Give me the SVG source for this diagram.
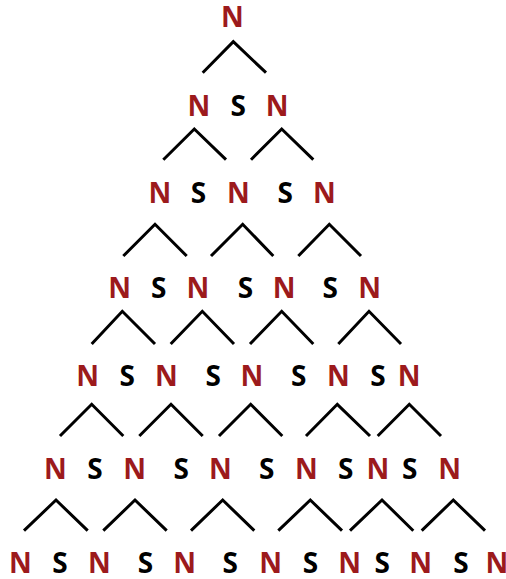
<svg xmlns="http://www.w3.org/2000/svg" width="506" height="579" viewBox="0 0 506 579">
<style>
  text { font-family: "Open Sans", "Liberation Sans", sans-serif; font-weight: bold; font-size: 28px; text-anchor: middle; }
  .n { fill: #9c1a1c; }
  .s { fill: #000000; }
  .c { fill: none; stroke: #000000; stroke-width: 3; }
</style>
<rect width="506" height="579" fill="#ffffff"/>
<g id="connectors">
  <polyline class="c" points="202.7,72.7 233.3,41.7 266,72.7"/>
  <polyline class="c" points="163.3,159.7 194.3,129 226,159.7"/>
  <polyline class="c" points="251,159.7 281.7,129 313.3,159.7"/>
  <polyline class="c" points="123.3,256 155,224.3 186.7,256"/>
  <polyline class="c" points="211,256 242.7,224.3 273.3,256"/>
  <polyline class="c" points="298.3,256 329.3,224.3 361,256"/>
  <polyline class="c" points="91.7,344 122.3,311.3 155,344"/>
  <polyline class="c" points="170.7,344 202.3,311.3 234,344"/>
  <polyline class="c" points="250,344 281.7,311.3 313.3,344"/>
  <polyline class="c" points="338.3,344 369,311.3 401,344"/>
  <polyline class="c" points="60,436 91.7,404.3 123.3,436"/>
  <polyline class="c" points="139.3,436 171,404.3 202.7,436"/>
  <polyline class="c" points="219,436 250.7,404.3 282.3,436"/>
  <polyline class="c" points="306,436 337.3,404.3 370,436"/>
  <polyline class="c" points="377.7,436 409.3,404.3 441,436"/>
  <polyline class="c" points="24,530.7 56,500 87.7,530.7"/>
  <polyline class="c" points="103.3,530.7 135,500 166.7,530.7"/>
  <polyline class="c" points="191,530.7 222.7,500 254.3,530.7"/>
  <polyline class="c" points="278.3,530.7 310.3,500 342,530.7"/>
  <polyline class="c" points="350,530.7 382,500 413.3,530.7"/>
  <polyline class="c" points="421.7,530.7 453.3,500 485,530.7"/>
</g>
<g id="r0n0"><text class="n" x="232.5" y="27">N</text></g>
<g id="r1n0"><text class="n" x="198.8" y="116">N</text></g>
<g id="r1s0"><text class="s" x="238.2" y="116">S</text></g>
<g id="r1n1"><text class="n" x="277.2" y="116">N</text></g>
<g id="r2n0"><text class="n" x="159.8" y="203">N</text></g>
<g id="r2s0"><text class="s" x="198.5" y="203">S</text></g>
<g id="r2n1"><text class="n" x="238.3" y="203">N</text></g>
<g id="r2s1"><text class="s" x="285.3" y="203">S</text></g>
<g id="r2n2"><text class="n" x="324.3" y="203">N</text></g>
<g id="r3n0"><text class="n" x="119.7" y="298">N</text></g>
<g id="r3s0"><text class="s" x="158.8" y="298">S</text></g>
<g id="r3n1"><text class="n" x="198" y="298">N</text></g>
<g id="r3s1"><text class="s" x="245.5" y="298">S</text></g>
<g id="r3n2"><text class="n" x="284.2" y="298">N</text></g>
<g id="r3s2"><text class="s" x="330.2" y="298">S</text></g>
<g id="r3n3"><text class="n" x="369.6" y="298">N</text></g>
<g id="r4n0"><text class="n" x="87.7" y="386">N</text></g>
<g id="r4s0"><text class="s" x="127.2" y="386">S</text></g>
<g id="r4n1"><text class="n" x="166.5" y="386">N</text></g>
<g id="r4s1"><text class="s" x="213.3" y="386">S</text></g>
<g id="r4n2"><text class="n" x="252" y="386">N</text></g>
<g id="r4s2"><text class="s" x="298.8" y="386">S</text></g>
<g id="r4n3"><text class="n" x="338.3" y="386">N</text></g>
<g id="r4s3"><text class="s" x="378" y="386">S</text></g>
<g id="r4n4"><text class="n" x="409.2" y="386">N</text></g>
<g id="r5n0"><text class="n" x="55.3" y="479">N</text></g>
<g id="r5s0"><text class="s" x="95" y="479">S</text></g>
<g id="r5n1"><text class="n" x="134.7" y="479">N</text></g>
<g id="r5s1"><text class="s" x="181.2" y="479">S</text></g>
<g id="r5n2"><text class="n" x="220.5" y="479">N</text></g>
<g id="r5s2"><text class="s" x="266.7" y="479">S</text></g>
<g id="r5n3"><text class="n" x="306.5" y="479">N</text></g>
<g id="r5s3"><text class="s" x="345.7" y="479">S</text></g>
<g id="r5n4"><text class="n" x="378" y="479">N</text></g>
<g id="r5s4"><text class="s" x="409.7" y="479">S</text></g>
<g id="r5n5"><text class="n" x="449.7" y="479">N</text></g>
<g id="r6n0"><text class="n" x="20.5" y="573">N</text></g>
<g id="r6s0"><text class="s" x="60" y="573">S</text></g>
<g id="r6n1"><text class="n" x="99.5" y="573">N</text></g>
<g id="r6s1"><text class="s" x="145.5" y="573">S</text></g>
<g id="r6n2"><text class="n" x="184.7" y="573">N</text></g>
<g id="r6s2"><text class="s" x="230.3" y="573">S</text></g>
<g id="r6n3"><text class="n" x="270.7" y="573">N</text></g>
<g id="r6s3"><text class="s" x="310.5" y="573">S</text></g>
<g id="r6n4"><text class="n" x="349.7" y="573">N</text></g>
<g id="r6s4"><text class="s" x="382.3" y="573">S</text></g>
<g id="r6n5"><text class="n" x="420.7" y="573">N</text></g>
<g id="r6s5"><text class="s" x="461" y="573">S</text></g>
<g id="r6n6"><text class="n" x="497" y="573">N</text></g>
</svg>
